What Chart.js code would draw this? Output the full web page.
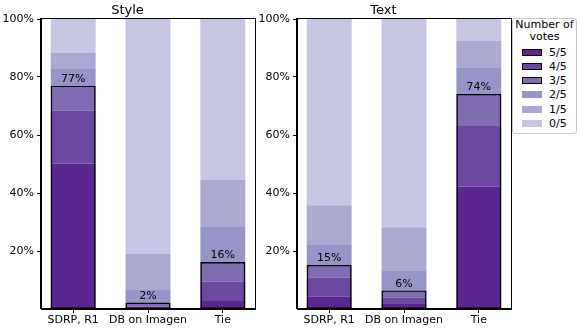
<!DOCTYPE html>
<html>
<head>
<meta charset="utf-8">
<script src="https://cdn.jsdelivr.net/npm/chart.js@4/dist/chart.umd.min.js"></script>
<style>
  body { margin: 0; background: #fff; font-family: "DejaVu Sans", sans-serif; }
  #wrap { position: relative; width: 581px; height: 331px; }
  #styleChart { position: absolute; left: 0; top: 0; }
  #textChart { position: absolute; left: 256px; top: 0; }
  #legend {
    position: absolute; left: 512px; top: 18px; width: 63px; height: 114px;
    border: 1px solid #c8c8c8; border-radius: 3px; font-size: 11px; color: #000;
  }
  #legend .title { text-align: center; line-height: 11.5px; margin-top: 0; }
  #legend .row { position: absolute; left: 9px; height: 14px; line-height: 14px; }
  #legend .sw { position: absolute; left: 0; top: 3px; width: 20px; height: 7px; box-sizing: border-box; }
  #legend .lbl { position: absolute; left: 27px; top: 0; }
</style>
</head>
<body>
<div id="wrap">
  <canvas id="styleChart" width="256" height="331"></canvas>
  <canvas id="textChart" width="256" height="331"></canvas>
  <div id="legend"></div>
</div>
<script>
const categories = ["SDRP, R1", "DB on Imagen", "Tie"];
const levels = ["5/5", "4/5", "3/5", "2/5", "1/5", "0/5"];
const levelColors = ["#5a2690", "#6c48a0", "#806cb0", "#9795c7", "#aba9d1", "#c7c7e3"];

// Style panel, % of answers per number of votes
const styleV5 = [50.2, 0.3, 2.8];
const styleV4 = [18.2, 0.5, 6.6];
const styleV3 = [8.6, 1.4, 6.8];
const styleV2 = [6.0, 4.6, 12.3];
const styleV1 = [5.4, 12.2, 16.0];
const styleV0 = [11.6, 81.0, 55.5];

// Text panel
const textV5 = [4.2, 1.7, 42.2];
const textV4 = [6.6, 2.2, 20.9];
const textV3 = [4.4, 2.5, 11.1];
const textV2 = [6.9, 6.7, 8.9];
const textV1 = [13.7, 15.1, 9.3];
const textV0 = [64.2, 71.8, 7.6];

const yTicks = [20, 40, 60, 80, 100];

// frame around the plot area (matplotlib spines)
const boxPlugin = {
  id: "box",
  afterDraw(chart) {
    const { ctx, chartArea: a } = chart;
    ctx.save();
    ctx.strokeStyle = "#000";
    ctx.lineWidth = 1;
    ctx.strokeRect(Math.round(a.left) - 0.5, Math.round(a.top) - 0.5,
      Math.round(a.right - a.left) + 1, Math.round(a.bottom - a.top));
    ctx.restore();
  }
};

// majority percentage above the outlined bars
const pctPlugin = {
  id: "pct",
  afterDatasetsDraw(chart) {
    const { ctx } = chart;
    const meta = chart.getDatasetMeta(0);
    const vals = chart.data.datasets[0].data;
    ctx.save();
    ctx.fillStyle = "#000";
    ctx.font = '11px "DejaVu Sans"';
    ctx.textAlign = "center";
    ctx.textBaseline = "bottom";
    meta.data.forEach((bar, i) => {
      ctx.fillText(Math.round(vals[i]) + "%", bar.x, bar.y - 1);
    });
    ctx.restore();
  }
};

function makeChart(id, title, series) {
  const majority = categories.map((c, i) => series[0][i] + series[1][i] + series[2][i]);

  const datasets = [{
    label: "majority",
    data: majority,
    stack: "outline",
    grouped: false,
    backgroundColor: "rgba(0,0,0,0)",
    borderColor: "#000",
    borderWidth: 1.4,
    borderSkipped: false
  }];
  levels.forEach((lvl, k) => {
    datasets.push({
      label: lvl,
      data: series[k],
      stack: "votes",
      backgroundColor: levelColors[k],
      borderWidth: 0
    });
  });

  return new Chart(document.getElementById(id), {
    type: "bar",
    data: { labels: [0, 1, 2], datasets: datasets },
    options: {
      responsive: false,
      animation: false,
      barPercentage: 0.6,
      categoryPercentage: 1,
      layout: { padding: { right: 1 } },
      plugins: {
        legend: { display: false },
        tooltip: { enabled: false },
        title: {
          display: true,
          text: title,
          color: "#000",
          font: { family: "DejaVu Sans", size: 13, weight: "normal" },
          padding: { top: 3, bottom: 0.4 }
        }
      },
      scales: {
        x: {
          type: "linear",
          offset: false,
          min: -0.43,
          max: 2.43,
          afterBuildTicks: (s) => { s.ticks = categories.map((c, i) => ({ value: i })); },
          afterFit: (s) => { s.height = 22; },
          grid: { offset: false, drawOnChartArea: false, drawTicks: true, tickLength: 4, color: "#000" },
          border: { display: true, color: "#000" },
          ticks: {
            autoSkip: false,
            maxRotation: 0,
            padding: 1,
            color: "#000",
            font: { family: "DejaVu Sans", size: 11 },
            callback: (v) => categories[v]
          }
        },
        y: {
          stacked: true,
          min: 0,
          max: 100,
          afterBuildTicks: (s) => { s.ticks = yTicks.map((v) => ({ value: v })); },
          afterFit: (s) => { s.width = 41; },
          grid: { drawOnChartArea: false, drawTicks: true, tickLength: 4, color: "#000" },
          border: { display: true, color: "#000" },
          ticks: {
            padding: 3,
            color: "#000",
            font: { family: "DejaVu Sans", size: 11 },
            callback: (v) => v + "%"
          }
        }
      }
    },
    plugins: [boxPlugin, pctPlugin]
  });
}

makeChart("styleChart", "Style", [styleV5, styleV4, styleV3, styleV2, styleV1, styleV0]);
makeChart("textChart", "Text", [textV5, textV4, textV3, textV2, textV1, textV0]);

// shared legend on the right
const legend = document.getElementById("legend");
legend.innerHTML = '<div class="title">Number of<br>votes</div>';
levels.forEach((lvl, k) => {
  const row = document.createElement("div");
  row.className = "row";
  row.style.top = (26.5 + k * 14.3) + "px";
  const border = k < 3 ? "1px solid #000" : "none";
  row.innerHTML = '<span class="sw" style="background:' + levelColors[k] + ';border:' + border + '"></span>' +
    '<span class="lbl">' + lvl + "</span>";
  legend.appendChild(row);
});
</script>
</body>
</html>
